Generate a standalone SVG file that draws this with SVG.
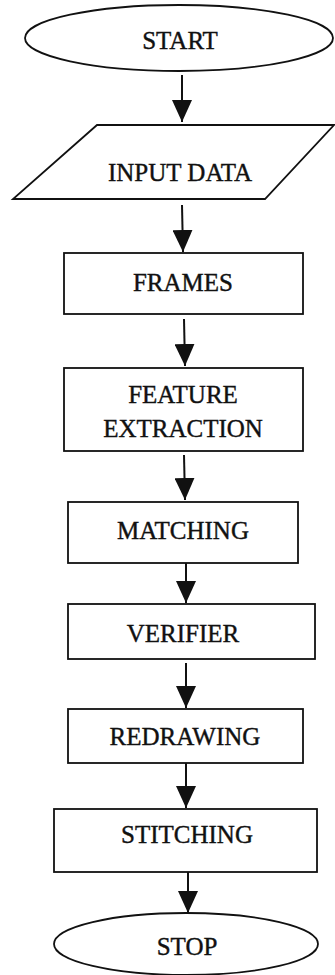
<svg xmlns="http://www.w3.org/2000/svg" width="335" height="975" viewBox="0 0 335 975">
<style>
.s{fill:#fff;stroke:#111;stroke-width:1.8}
.t{font-family:"Liberation Serif","Times New Roman",serif;font-size:25px;fill:#111;stroke:#111;stroke-width:0.4;text-anchor:middle}
.c{stroke:#111;stroke-width:2;fill:none}
</style>
<defs>
<marker id="ah" markerUnits="userSpaceOnUse" markerWidth="22" markerHeight="20" refX="22" refY="10" orient="auto" viewBox="0 0 22 20">
<path d="M0,0 L22,10 L0,20 Z" fill="#111"/>
</marker>
</defs>
<rect width="335" height="975" fill="#fff"/>
<g id="start"><ellipse class="s" cx="179" cy="38" rx="154" ry="33"/><text class="t" x="180" y="49">START</text></g>
<g id="input"><polygon class="s" points="97,125 334,125 265,199 13,199"/><text class="t" x="180" y="181">INPUT DATA</text></g>
<g id="frames"><rect class="s" x="64" y="253" width="239" height="61"/><text class="t" x="183" y="291">FRAMES</text></g>
<g id="feature"><rect class="s" x="64" y="368" width="239" height="83"/><text class="t" x="183" y="403">FEATURE</text><text class="t" x="183" y="437">EXTRACTION</text></g>
<g id="matching"><rect class="s" x="68" y="502" width="230" height="61"/><text class="t" x="183" y="539">MATCHING</text></g>
<g id="verifier"><rect class="s" x="68" y="604" width="247" height="55"/><text class="t" x="183" y="642">VERIFIER</text></g>
<g id="redrawing"><rect class="s" x="68" y="709" width="235" height="54"/><text class="t" x="185" y="745">REDRAWING</text></g>
<g id="stitching"><rect class="s" x="54" y="809" width="263" height="63"/><text class="t" x="187" y="843">STITCHING</text></g>
<g id="stop"><ellipse class="s" cx="186" cy="944" rx="132" ry="31"/><text class="t" x="187" y="955">STOP</text></g>
<g id="connectors">
<line class="c" x1="182" y1="75" x2="182" y2="122" marker-end="url(#ah)"/>
<line class="c" x1="182" y1="205" x2="183" y2="252" marker-end="url(#ah)"/>
<line class="c" x1="184" y1="319" x2="185" y2="366" marker-end="url(#ah)"/>
<line class="c" x1="184" y1="455" x2="185" y2="500" marker-end="url(#ah)"/>
<line class="c" x1="186" y1="563" x2="186" y2="603" marker-end="url(#ah)"/>
<line class="c" x1="186" y1="663" x2="186" y2="708" marker-end="url(#ah)"/>
<line class="c" x1="186" y1="763" x2="186" y2="808" marker-end="url(#ah)"/>
<line class="c" x1="188" y1="872" x2="188" y2="913" marker-end="url(#ah)" stroke-width="3"/>
</g>
</svg>
